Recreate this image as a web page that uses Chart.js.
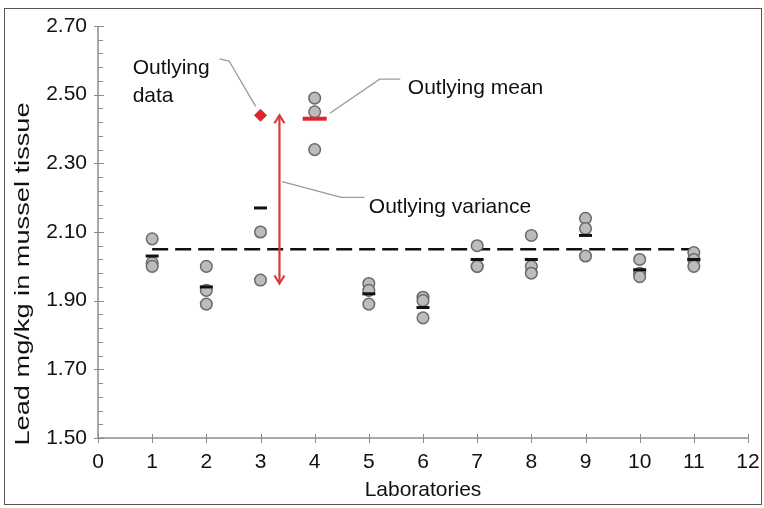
<!DOCTYPE html>
<html>
<head>
<meta charset="utf-8">
<script src="https://cdn.jsdelivr.net/npm/chart.js@4"></script>
<style>
  html, body { margin: 0; padding: 0; background: #fff; }
  #wrap { width: 764px; height: 508px; }
</style>
</head>
<body>
<div id="wrap"><canvas id="leadChart" width="764" height="508"></canvas></div>
<script>
// Lead results per laboratory (mg/kg, three replicates each)
const labs = [1, 2, 3, 4, 5, 6, 7, 8, 9, 10, 11];
const replicates = [
    [2.08, 2.01, 2.00],
    [2.00, 1.93, 1.89],
    [2.10, 1.96],
    [2.49, 2.45, 2.34],
    [1.95, 1.93, 1.89],
    [1.91, 1.90, 1.85],
    [2.06, 2.00, 2.00],
    [2.09, 2.00, 1.98],
    [2.14, 2.11, 2.03],
    [2.02, 1.98, 1.97],
    [2.04, 2.02, 2.00]
];
const labMeans = [2.03, 1.94, 2.17, 2.43, 1.92, 1.88, 2.02, 2.02, 2.09, 1.99, 2.02];
const outlierLab = 3;
const outlierValue = 2.44;
const outlyingMeanLab = 4;
const grandMean = 2.05;
const varianceArrow = { x: 3.35, from: 2.44, to: 1.95 };

const xTicks = [0, 1, 2, 3, 4, 5, 6, 7, 8, 9, 10, 11, 12];
const yTicks = [1.50, 1.70, 1.90, 2.10, 2.30, 2.50, 2.70];
const yMinorStep = 0.04;
const yTitle = "Lead mg/kg in mussel tissue";

// callouts: text lines plus leader polyline, in data units
const callouts = [
    { lines: ["Outlying", "data"], x: 0.64, y: [2.578, 2.496],
      leader: [[2.24, 2.604], [2.42, 2.598], [2.91, 2.466]] },
    { lines: ["Outlying mean"], x: 5.72, y: [2.519],
      leader: [[4.28, 2.446], [5.20, 2.545], [5.58, 2.545]] },
    { lines: ["Outlying variance"], x: 5.00, y: [2.173],
      leader: [[3.40, 2.247], [4.49, 2.201], [4.92, 2.201]] }
];

const FONT = "'Liberation Sans', Arial, Helvetica, sans-serif";
const RED = "#e3242b";
const AXIS = "#8c8c8c";

const points = [];
replicates.forEach((vals, i) => vals.forEach(v => points.push({ x: labs[i], y: v })));
const meanPts = labs.filter(l => l !== outlyingMeanLab).map(l => ({ x: l, y: labMeans[l - 1] }));

// axis lines, tick marks, frame, arrow heads, y title and callouts
const decorations = {
    id: "decorations",
    beforeDraw(chart) {
        const ctx = chart.ctx;
        ctx.save();
        ctx.strokeStyle = "#555";
        ctx.lineWidth = 1;
        ctx.strokeRect(4.5, 8.5, 757, 496);
        ctx.restore();
    },
    afterDatasetsDraw(chart) {
        const ctx = chart.ctx;
        const xs = chart.scales.x, ys = chart.scales.y;
        const ax = xs.getPixelForValue(0), ay = ys.getPixelForValue(1.5);
        ctx.save();
        ctx.strokeStyle = AXIS;
        ctx.lineWidth = 1.5;
        ctx.beginPath();
        ctx.moveTo(ax, ys.getPixelForValue(2.7));
        ctx.lineTo(ax, ay);
        ctx.lineTo(xs.getPixelForValue(12), ay);
        ctx.stroke();
        ctx.lineWidth = 1;
        ctx.beginPath();
        yTicks.forEach(v => {
            const py = Math.round(ys.getPixelForValue(v)) + 0.5;
            ctx.moveTo(ax - 4, py); ctx.lineTo(ax + 6, py);
        });
        for (let v = 1.5; v < 2.7; v += yMinorStep) {
            const py = Math.round(ys.getPixelForValue(v)) + 0.5;
            ctx.moveTo(ax, py); ctx.lineTo(ax + 5, py);
        }
        xTicks.forEach(v => {
            const px = Math.round(xs.getPixelForValue(v)) + 0.5;
            ctx.moveTo(px, ay - 4); ctx.lineTo(px, ay + 5);
        });
        ctx.stroke();

        // arrow heads on the variance arrow
        const axp = xs.getPixelForValue(varianceArrow.x);
        const top = ys.getPixelForValue(varianceArrow.from);
        const bot = ys.getPixelForValue(varianceArrow.to);
        ctx.strokeStyle = "#d9383d";
        ctx.lineWidth = 2.2;
        ctx.beginPath();
        ctx.moveTo(axp - 5, top + 8); ctx.lineTo(axp, top); ctx.lineTo(axp + 5, top + 8);
        ctx.moveTo(axp - 5, bot - 8); ctx.lineTo(axp, bot); ctx.lineTo(axp + 5, bot - 8);
        ctx.stroke();

        // y axis title, drawn long and narrow
        ctx.fillStyle = "#111";
        ctx.save();
        ctx.translate(23, 274);
        ctx.rotate(-Math.PI / 2);
        ctx.scale(1.36, 1);
        ctx.font = "20px " + FONT;
        ctx.textAlign = "center";
        ctx.textBaseline = "middle";
        ctx.fillText(yTitle, 0, 0);
        ctx.restore();

        // callouts
        ctx.strokeStyle = "#9a9a9a";
        ctx.lineWidth = 1.3;
        ctx.font = "21px " + FONT;
        ctx.textBaseline = "middle";
        ctx.textAlign = "left";
        callouts.forEach(c => {
            ctx.beginPath();
            c.leader.forEach((p, i) => {
                const px = xs.getPixelForValue(p[0]), py = ys.getPixelForValue(p[1]);
                if (i === 0) ctx.moveTo(px, py); else ctx.lineTo(px, py);
            });
            ctx.stroke();
            c.lines.forEach((t, i) => {
                ctx.fillText(t, xs.getPixelForValue(c.x), ys.getPixelForValue(c.y[i]));
            });
        });
        ctx.restore();
    }
};

const ctx = document.getElementById("leadChart").getContext("2d");
new Chart(ctx, {
    type: "scatter",
    data: {
        datasets: [
            {
                label: "Lab mean",
                data: meanPts,
                pointStyle: "line",
                pointRadius: 6.5,
                borderColor: "#111",
                borderWidth: 3,
                order: 1
            },
            {
                label: "Outlying mean",
                data: [{ x: outlyingMeanLab, y: labMeans[outlyingMeanLab - 1] }],
                pointStyle: "line",
                pointRadius: 12,
                borderColor: RED,
                borderWidth: 4,
                order: 2
            },
            {
                label: "Outlying data",
                data: [{ x: outlierLab, y: outlierValue }],
                pointStyle: "rectRot",
                pointRadius: 6,
                backgroundColor: RED,
                borderColor: RED,
                borderWidth: 1,
                order: 3
            },
            {
                label: "Replicates",
                data: points,
                pointStyle: "circle",
                pointRadius: 5.8,
                backgroundColor: "#bcbcbc",
                borderColor: "#6a6a6a",
                borderWidth: 1.5,
                order: 4
            },
            {
                label: "Variance",
                type: "line",
                data: [{ x: varianceArrow.x, y: varianceArrow.from }, { x: varianceArrow.x, y: varianceArrow.to }],
                borderColor: "#d9383d",
                borderWidth: 2.2,
                pointRadius: 0,
                order: 5
            },
            {
                label: "Consensus mean",
                type: "line",
                data: [{ x: labs[0], y: grandMean }, { x: labs[labs.length - 1], y: grandMean }],
                borderColor: "#111",
                borderWidth: 2.5,
                borderDash: [16, 7],
                pointRadius: 0,
                order: 6
            }
        ]
    },
    options: {
        responsive: false,
        animation: false,
        layout: { padding: { left: 0, top: 26, right: 0, bottom: 0 } },
        plugins: { legend: { display: false }, tooltip: { enabled: false } },
        scales: {
            x: {
                type: "linear",
                min: 0, max: 12,
                afterFit: s => { s.height = 70; s.paddingRight = 12; },
                afterBuildTicks: s => { s.ticks = xTicks.map(v => ({ value: v })); },
                ticks: { color: "#111", font: { family: FONT, size: 21 }, padding: 12 },
                grid: { display: false, drawTicks: false },
                border: { display: false },
                title: { display: true, text: "Laboratories", color: "#111",
                         font: { family: FONT, size: 21 }, padding: { top: 0, bottom: 5 } }
            },
            y: {
                type: "linear",
                min: 1.5, max: 2.7,
                afterFit: s => { s.width = 98; },
                afterBuildTicks: s => { s.ticks = yTicks.map(v => ({ value: v })); },
                ticks: { color: "#111", font: { family: FONT, size: 21 }, padding: 11,
                         callback: v => Number(v).toFixed(2) },
                grid: { display: false, drawTicks: false },
                border: { display: false },
                title: { display: false }
            }
        }
    },
    plugins: [decorations]
});
</script>
</body>
</html>
